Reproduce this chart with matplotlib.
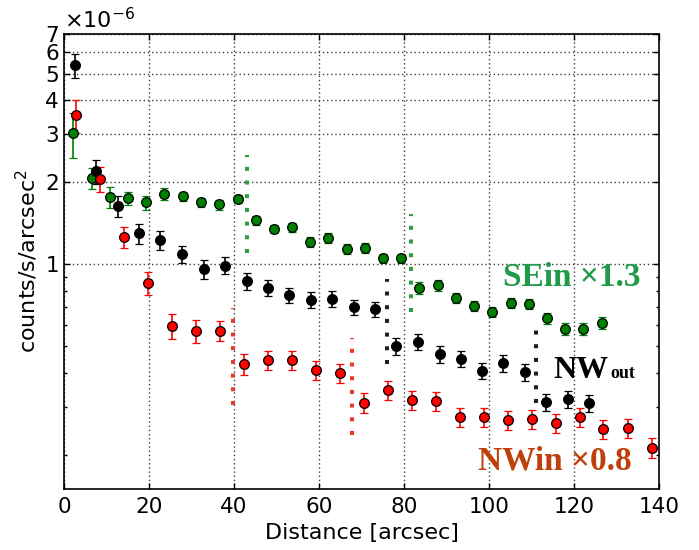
import numpy as np
import matplotlib
matplotlib.use('Agg')
import matplotlib.pyplot as plt
from matplotlib.ticker import FixedLocator, FixedFormatter, NullFormatter

# SEin (x1.3) profile
se_dist = [2.1, 6.6, 10.8, 15.1, 19.3, 23.5, 28.0, 32.2, 36.5, 40.9, 45.2, 49.4, 53.6, 57.9, 62.1,
           66.6, 70.8, 75.1, 79.3, 83.5, 88.0, 92.2, 96.5, 100.7, 105.2, 109.4, 113.6, 117.9, 122.1, 126.6]
se_val = [3.03, 2.07, 1.77, 1.75, 1.69, 1.81, 1.78, 1.69, 1.66, 1.74, 1.45, 1.35, 1.37, 1.21, 1.25,
          1.14, 1.15, 1.055, 1.055, 0.818, 0.839, 0.752, 0.703, 0.668, 0.721, 0.715, 0.635, 0.579, 0.579, 0.609]
se_err = [0.57, 0.18, 0.16, 0.10, 0.10, 0.09, 0.07, 0.07, 0.07, 0.06, 0.06, 0.05, 0.05, 0.05, 0.05,
          0.05, 0.05, 0.04, 0.04, 0.04, 0.04, 0.03, 0.03, 0.03, 0.03, 0.03, 0.03, 0.03, 0.03, 0.03]

# NWout profile
nwo_dist = [2.6, 7.5, 12.7, 17.6, 22.6, 27.8, 32.9, 37.9, 43.1, 48.0, 52.9, 58.1, 63.1,
            68.2, 73.2, 78.1, 83.3, 88.5, 93.4, 98.4, 103.3, 108.5, 113.4, 118.6, 123.5]
nwo_val = [5.39, 2.20, 1.64, 1.30, 1.23, 1.09, 0.961, 0.99, 0.868, 0.818, 0.772, 0.739, 0.746,
           0.697, 0.685, 0.501, 0.519, 0.469, 0.449, 0.406, 0.434, 0.402, 0.312, 0.320, 0.310]
nwo_err = [0.55, 0.22, 0.15, 0.11, 0.10, 0.08, 0.08, 0.07, 0.06, 0.055, 0.05, 0.05, 0.05,
           0.045, 0.045, 0.035, 0.035, 0.033, 0.03, 0.028, 0.03, 0.028, 0.022, 0.022, 0.022]

# NWin (x0.8) profile
nwi_dist = [2.8, 8.5, 14.1, 19.8, 25.4, 31.1, 36.7, 42.4, 48.0, 53.6, 59.3, 64.9, 70.6,
            76.2, 81.9, 87.5, 93.2, 98.8, 104.5, 110.1, 115.8, 121.4, 126.8, 132.7, 138.4]
nwi_val = [3.53, 2.06, 1.26, 0.854, 0.594, 0.569, 0.569, 0.431, 0.445, 0.445, 0.409, 0.399, 0.310,
           0.345, 0.318, 0.315, 0.275, 0.275, 0.268, 0.270, 0.261, 0.275, 0.248, 0.251, 0.212]
nwi_err = [0.5, 0.21, 0.115, 0.08, 0.062, 0.055, 0.048, 0.038, 0.037, 0.037, 0.034, 0.032, 0.026,
           0.028, 0.026, 0.026, 0.023, 0.023, 0.022, 0.022, 0.021, 0.022, 0.02, 0.02, 0.018]

# edge markers: x, y-from, y-to (units of 1e-6)
se_edges = [(43.1, 1.10, 2.53), (81.6, 0.667, 1.53)]
nwo_edges = [(76.0, 0.432, 0.885), (111.1, 0.310, 0.573)]
nwi_edges = [(39.8, 0.304, 0.690), (67.8, 0.236, 0.535)]

yticks = [1, 2, 3, 4, 5, 6, 7]
yminor = [0.2, 0.3, 0.4, 0.5, 0.6, 0.7, 0.8, 0.9]

plt.rcParams['xtick.direction'] = 'in'
plt.rcParams['ytick.direction'] = 'in'
plt.rcParams['xtick.top'] = True
plt.rcParams['ytick.right'] = True

fig = plt.figure(figsize=(6.99, 5.5), dpi=100)
ax = fig.add_axes([0.0916, 0.1115, 0.8512, 0.8262])

scale = 1e-6
series = [(se_dist, se_val, se_err, '#008000'),
          (nwo_dist, nwo_val, nwo_err, 'k'),
          (nwi_dist, nwi_val, nwi_err, '#ff0000')]
for d, v, e, c in series:
    ax.errorbar(d, np.array(v) * scale, yerr=np.array(e) * scale, fmt='o', color=c, ecolor=c,
                mfc=c, mec='k', mew=0.9, ms=7, elinewidth=1.2, capsize=3, capthick=1.2, zorder=3)

for edges, c in [(se_edges, '#2f9e3f'), (nwo_edges, '#231f20'), (nwi_edges, '#e8392b')]:
    for x, y0, y1 in edges:
        ax.plot([x, x], [y0 * scale, y1 * scale], color=c, lw=2.9, linestyle=(0, (1, 2.4)), zorder=2)

ax.set_yscale('log')
ax.set_xlim(0, 140)
ax.set_ylim(0.15e-6, 7e-6)
ax.yaxis.set_major_locator(FixedLocator([t * scale for t in yticks]))
ax.yaxis.set_major_formatter(FixedFormatter([str(t) for t in yticks]))
ax.yaxis.set_minor_locator(FixedLocator([t * scale for t in yminor]))
ax.yaxis.set_minor_formatter(NullFormatter())
ax.set_xticks(range(0, 141, 20))
ax.tick_params(which='major', length=4, width=1, labelsize=15.5)
ax.tick_params(which='minor', length=2.5, width=1)
ax.tick_params(axis='x', pad=6)
ax.grid(True, which='major', color='0.25', linestyle=(0, (1, 2)), linewidth=1.0)
for s in ax.spines.values():
    s.set_linewidth(1.2)

ax.set_xlabel('Distance [arcsec]', fontsize=16)
ax.set_ylabel('counts/s/arcsec$^2$', fontsize=16)
ax.text(0.0, 1.005, r'$\times10^{-6}$', transform=ax.transAxes, fontsize=16, ha='left', va='bottom')

serif = ['Liberation Serif', 'DejaVu Serif']
ax.text(103.2, 0.833e-6, 'SEin \u00d71.3', fontsize=24, fontweight='bold', family=serif,
        color='#1e9a48', ha='left', va='baseline')
ax.text(115.1, 0.3835e-6, 'NW', fontsize=23, fontweight='bold', family=serif,
        color='k', ha='left', va='baseline')
ax.text(128.6, 0.3835e-6, 'out', fontsize=13, fontweight='bold', family=serif,
        color='k', ha='left', va='baseline')
ax.text(97.5, 0.177e-6, 'NWin \u00d70.8', fontsize=24, fontweight='bold', family=serif,
        color='#c0400c', ha='left', va='baseline')

fig.savefig('out.png', dpi=100)
